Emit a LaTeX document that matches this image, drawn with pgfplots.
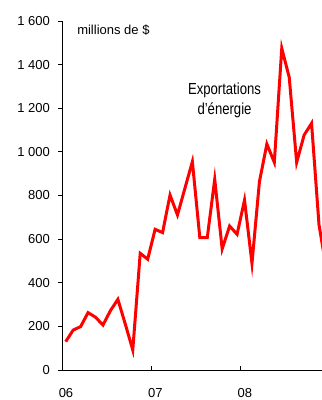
\documentclass[border=0pt]{standalone}
\usepackage{fontspec}
\setmainfont{Liberation Sans}
\newfontfamily\narrowfont[FakeStretch=0.82]{Liberation Sans}
\usepackage{pgfplots}
\pgfplotsset{compat=1.18}
\pgfplotstableread{
m v
0.5 130
1.5 183
2.5 199
3.5 263
4.5 242
5.5 206
6.5 272
7.5 324
8.5 210
9.5 92
10.5 535
11.5 508
12.5 645
13.5 630
14.5 802
15.5 711
16.5 833
17.5 955
18.5 607
19.5 607
20.5 874
21.5 555
22.5 660
23.5 622
24.5 779
25.5 489
26.5 863
27.5 1036
28.5 952
29.5 1475
30.5 1342
31.5 952
32.5 1077
33.5 1131
34.5 665
35.5 460
}\energy
\usepackage{pgfplotstable}
\begin{document}
\begin{tikzpicture}
\begin{axis}[
  scale only axis, width=260bp, height=349bp,
  xmin=0, xmax=34.9, ymin=0, ymax=1600,
  axis x line=bottom, axis y line=left,
  axis line style={-, line width=0.8bp, black},
  xtick={0,12,24}, xticklabels={06,07,08},
  ytick={0,200,...,1600},
  yticklabels={0,200,400,600,800,1 000,1 200,1 400,1 600},
  xtick align=inside, ytick align=outside,
  major tick length=4bp,
  tick style={black, line width=0.8bp},
  xticklabel style={font=\fontsize{13bp}{15bp}\selectfont, anchor=north, inner sep=0pt, yshift=-18bp, xshift=4bp},
  yticklabel style={font=\fontsize{13bp}{15bp}\selectfont, anchor=east, inner sep=0pt, xshift=-8bp},
  clip=true,
]
\addplot[red, line width=3bp] table[x=m, y=v] {\energy};
\node[anchor=west, inner sep=0pt, font=\fontsize{13bp}{15bp}\selectfont] at (axis description cs:0.058,0.975) {millions de \$};
\node[anchor=north, inner sep=0pt, align=center, font=\narrowfont\fontsize{16bp}{20bp}\selectfont] at (axis description cs:0.625,0.824) {Exportations\\d’énergie};
\end{axis}
\pgfresetboundingbox
\path (current axis.south west) ++(-62bp,-30bp) rectangle ++(322bp,400bp);
\end{tikzpicture}
\end{document}
